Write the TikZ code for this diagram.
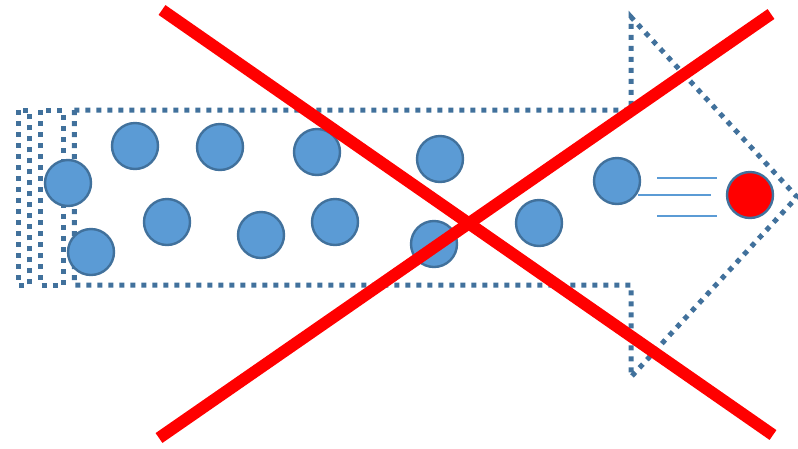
\documentclass[tikz,border=0pt]{standalone}
\definecolor{outl}{HTML}{41719C}
\definecolor{ballfill}{HTML}{5B9BD5}
\definecolor{xred}{HTML}{FF0000}
\tikzset{
  dotline/.style={draw=outl, line width=5pt, dash pattern=on 5pt off 6pt, line cap=butt},
  ball/.style={circle, draw=outl, fill=ballfill, line width=2.4pt, minimum size=46pt, inner sep=0pt},
  redball/.style={ball, fill=xred},
  speed/.style={draw=ballfill, line width=1.4pt},
  cross/.style={draw=xred, line width=12pt, line cap=butt}
}
\begin{document}
\begin{tikzpicture}[x=1pt,y=-1pt]
\useasboundingbox (0,0) rectangle (798,448);
% striped block arrow outline
\draw[dotline] (18,110) rectangle (29.25,285);
\draw[dotline] (40.5,110) rectangle (63,285);
\draw[dotline] (74.25,110) -- (631,110) -- (631,17) -- (797,197) -- (631,377) -- (631,285) -- (74.25,285) -- cycle;
% balls
\node[ball] (b1) at (68,183) {};
\node[ball] (b2) at (135,146) {};
\node[ball] (b3) at (220,147) {};
\node[ball] (b4) at (317,152) {};
\node[ball] (b5) at (440,159) {};
\node[ball] (b6) at (91,252) {};
\node[ball] (b7) at (167,222) {};
\node[ball] (b8) at (261,235) {};
\node[ball] (b9) at (335,222) {};
\node[ball] (b10) at (434,244) {};
\node[ball] (b11) at (539,223) {};
\node[ball] (b12) at (617,181) {};
\node[redball] (r) at (750,195) {};
% speed lines
\coordinate (s1a) at (657,178); \coordinate (s1b) at (717,178);
\coordinate (s2a) at (638,195); \coordinate (s2b) at (711,195);
\coordinate (s3a) at (657,216); \coordinate (s3b) at (717,216);
\draw[speed] (s1a) -- (s1b);
\draw[speed] (s2a) -- (s2b);
\draw[speed] (s3a) -- (s3b);
% red cross
\coordinate (x1a) at (162,10); \coordinate (x1b) at (773,435);
\coordinate (x2a) at (159,438); \coordinate (x2b) at (771,14);
\draw[cross] (x1a) -- (x1b);
\draw[cross] (x2a) -- (x2b);
\end{tikzpicture}
\end{document}
